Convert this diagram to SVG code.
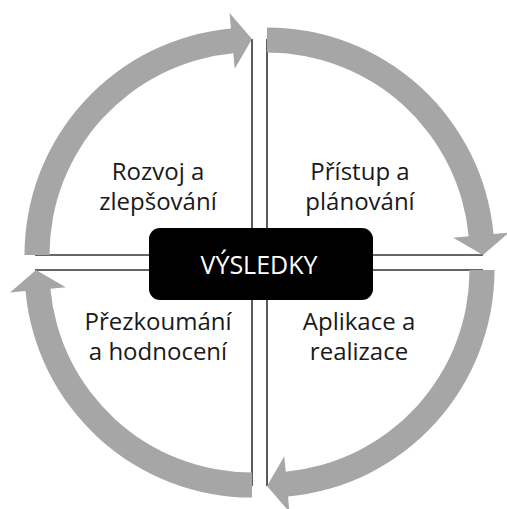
<svg xmlns="http://www.w3.org/2000/svg" width="507" height="509" viewBox="0 0 507 509">
  <defs>
    <style>
      .ln { fill: none; stroke: #333333; stroke-width: 1.6; }
      .arr { fill: #a6a6a6; stroke: none; }
      .lbl { font-family: "Open Sans", "Noto Sans", "DejaVu Sans", sans-serif; font-size: 24px; fill: #1a1a1a; text-anchor: middle; }
      .ctr { font-family: "Open Sans", "Noto Sans", "DejaVu Sans", sans-serif; font-size: 25px; fill: #ffffff; text-anchor: middle; }
    </style>
    <path id="arrowShape" d="M -227.5 0 A 227.5 227.5 0 0 1 -21.02 -226.53 L -22.45 -241.96 L 0 -216 L -17.28 -186.2 L -18.71 -201.64 A 202.5 202.5 0 0 0 -202.5 0 Z"/>
  </defs>
  <rect width="507" height="509" fill="#ffffff"/>
  <g id="connectors">
    <polyline class="ln" points="252,39 252,255 35,255"/>
    <polyline class="ln" points="267,39 267,255 483,255"/>
    <polyline class="ln" points="267,486 267,270 483,270"/>
    <polyline class="ln" points="252,486 252,270 35,270"/>
    <use href="#arrowShape" class="arr" transform="translate(252,255)"/>
    <use href="#arrowShape" class="arr" transform="translate(267,255) rotate(90)"/>
    <use href="#arrowShape" class="arr" transform="translate(267,270) rotate(180)"/>
    <use href="#arrowShape" class="arr" transform="translate(252,270) rotate(270)"/>
  </g>
  <g id="node-rozvoj">
    <text class="lbl" x="158" y="180">Rozvoj a</text>
    <text class="lbl" x="158" y="210">zlepšování</text>
  </g>
  <g id="node-pristup">
    <text class="lbl" x="360" y="180">Přístup a</text>
    <text class="lbl" x="360" y="210">plánování</text>
  </g>
  <g id="node-prezkoumani">
    <text class="lbl" x="158" y="330">Přezkoumání</text>
    <text class="lbl" x="158" y="360">a hodnocení</text>
  </g>
  <g id="node-aplikace">
    <text class="lbl" x="359" y="330">Aplikace a</text>
    <text class="lbl" x="359" y="360">realizace</text>
  </g>
  <g id="node-vysledky">
    <rect x="149" y="228" width="224" height="72" rx="11" ry="11" fill="#000000"/>
    <text class="ctr" x="259" y="274">VÝSLEDKY</text>
  </g>
</svg>
